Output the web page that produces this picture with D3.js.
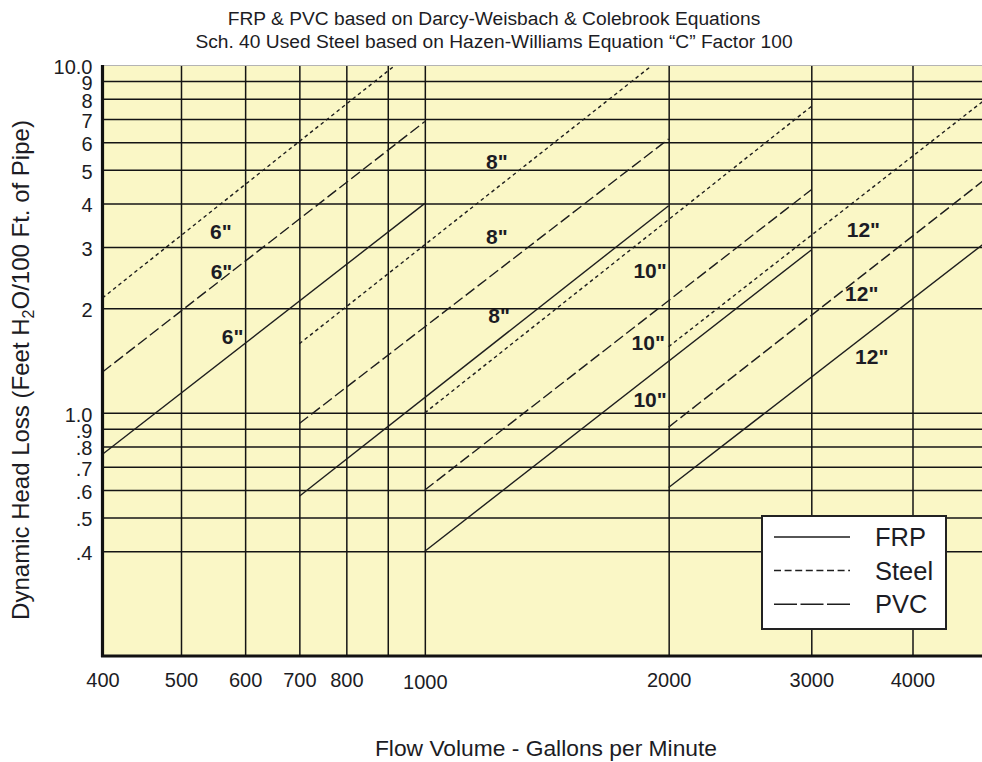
<!DOCTYPE html>
<html>
<head>
<meta charset="utf-8">
<script src="https://cdn.jsdelivr.net/npm/d3@7"></script>
<style>
  html, body { margin: 0; padding: 0; background: #ffffff; }
  svg { display: block; }
  text { font-family: "Liberation Sans", Arial, Helvetica, sans-serif; fill: #1c1c24; }
</style>
</head>
<body>
<svg id="chart" width="982" height="762"></svg>
<script>
// Pipe friction loss per 100 ft vs. flow, log-log
const titleLines = [
  "FRP & PVC based on Darcy-Weisbach & Colebrook Equations",
  "Sch. 40 Used Steel based on Hazen-Williams Equation \u201CC\u201D Factor 100"
];

// pipe sizes, one line per material for each size
const pipeSizes = ['6"', '8"', '10"', '12"'];

// [flow gpm, head ft] endpoints of each straight line (power law)
const frpLines = [
  [[400, 0.76], [1000, 4.0]],
  [[700, 0.576], [2000, 3.94]],
  [[1000, 0.40], [3000, 2.94]],
  [[2000, 0.61], [5000, 3.18]]
];
const steelLines = [
  [[400, 2.14], [915, 9.9]],
  [[700, 1.58], [1900, 9.9]],
  [[1000, 1.0], [3000, 7.6]],
  [[2000, 1.55], [5000, 8.2]]
];
const pvcLines = [
  [[400, 1.31], [1000, 6.88]],
  [[700, 0.932], [2000, 6.13]],
  [[1000, 0.60], [3000, 4.38]],
  [[2000, 0.91], [5000, 4.84]]
];

// size label anchors [flow, head]
const steelLabelAt = [[560, 3.32], [1227, 5.28], [1897, 2.57], [3479, 3.36]];
const pvcLabelAt   = [[561, 2.55], [1227, 3.21], [1887, 1.59], [3463, 2.21]];
const frpLabelAt   = [[579, 1.66], [1235, 1.90], [1897, 1.09], [3562, 1.45]];

// axes
const xDomain = [400, 5000];
const yDomain = [0.2, 10];
const xGridValues = [500, 600, 700, 800, 900, 1000, 2000, 3000, 4000];
const xTickValues = [400, 500, 600, 700, 800, 1000, 2000, 3000, 4000];
const yGridValues = [0.4, 0.5, 0.6, 0.7, 0.8, 0.9, 1, 2, 3, 4, 5, 6, 7, 8, 9, 10];
const yTickLabels = ['.4', '.5', '.6', '.7', '.8', '.9', '1.0', '2', '3', '4', '5', '6', '7', '8', '9', '10.0'];

const xTitle = "Flow Volume - Gallons per Minute";
const legendItems = ["FRP", "Steel", "PVC"];

const svg = d3.select("#chart");
const plot = { left: 102.5, top: 65, bottom: 656 };
plot.right = plot.left + 810 * Math.log10(xDomain[1] / xDomain[0]);

const x = d3.scaleLog().domain(xDomain).range([plot.left, plot.right]);
const y = d3.scaleLog().domain(yDomain).range([plot.bottom, plot.top]);

const styles = {
  FRP:   { dash: null,      legendDash: null },
  Steel: { dash: "3.6,3.2", legendDash: "7,3.6" },
  PVC:   { dash: "11,4",    legendDash: "23,3.5" }
};

// plot background
svg.append("rect")
  .attr("x", plot.left).attr("y", plot.top)
  .attr("width", plot.right - plot.left).attr("height", plot.bottom - plot.top)
  .attr("fill", "#faf7c6");

// size labels sit beneath grid and curves
const labelG = svg.append("g")
  .attr("font-weight", "bold").attr("font-size", 21).attr("text-anchor", "middle");
[steelLabelAt, pvcLabelAt, frpLabelAt].forEach(set => {
  set.forEach((p, i) => {
    labelG.append("text")
      .attr("x", x(p[0])).attr("y", y(p[1]))
      .attr("dy", "0.36em")
      .text(pipeSizes[i]);
  });
});

// gridlines
const gridX = svg.append("g")
  .attr("transform", `translate(0,${plot.bottom})`)
  .call(d3.axisBottom(x).tickValues(xGridValues).tickSize(-(plot.bottom - plot.top)).tickFormat(""));
const gridY = svg.append("g")
  .attr("transform", `translate(${plot.left},0)`)
  .call(d3.axisLeft(y).tickValues(yGridValues).tickSize(-(plot.right - plot.left)).tickFormat(""));
[gridX, gridY].forEach(g => {
  g.select(".domain").remove();
  g.selectAll(".tick line").attr("stroke", "#141414").attr("stroke-width", 1.5);
});
gridY.selectAll(".tick line").filter(d => d === 10).attr("stroke", "#b4b4b4").attr("stroke-width", 1.2);

// friction loss lines
const lineGen = d3.line().x(d => x(d[0])).y(d => y(d[1]));
svg.append("clipPath").attr("id", "plotClip").append("rect")
  .attr("x", plot.left).attr("y", plot.top)
  .attr("width", plot.right - plot.left).attr("height", plot.bottom - plot.top);
const curves = svg.append("g").attr("clip-path", "url(#plotClip)");
[["FRP", frpLines], ["Steel", steelLines], ["PVC", pvcLines]].forEach(([name, set]) => {
  set.forEach(seg => {
    curves.append("path")
      .attr("d", lineGen(seg))
      .attr("fill", "none")
      .attr("stroke", "#1e1e1e")
      .attr("stroke-width", 1.4)
      .attr("stroke-dasharray", styles[name].dash);
  });
});

// axis frame: heavy left and bottom rules
const axisL = svg.append("g")
  .attr("transform", `translate(${plot.left},0)`)
  .call(d3.axisLeft(y).tickValues(yGridValues).tickSize(0).tickPadding(10)
    .tickFormat((d, i) => yTickLabels[i]));
axisL.select(".domain").remove();
axisL.selectAll("text")
  .attr("font-size", 20).attr("font-family", null).attr("fill", "#1c1c2c")
  .attr("dy", "0.42em");

const axisB = svg.append("g")
  .attr("transform", `translate(0,${plot.bottom})`)
  .call(d3.axisBottom(x).tickValues(xTickValues).tickSize(0).tickPadding(17)
    .tickFormat(d3.format("d")));
axisB.select(".domain").remove();
axisB.selectAll("text")
  .attr("font-size", 20).attr("font-family", null).attr("fill", "#1c1c2c")
  .attr("dy", d => d === 1000 ? "0.82em" : "0.71em");

svg.append("line")
  .attr("x1", plot.left).attr("x2", plot.left)
  .attr("y1", plot.top).attr("y2", plot.bottom + 1)
  .attr("stroke", "#111").attr("stroke-width", 3.2);
svg.append("line")
  .attr("x1", plot.left - 1.5).attr("x2", plot.right)
  .attr("y1", plot.bottom).attr("y2", plot.bottom)
  .attr("stroke", "#111").attr("stroke-width", 3);

// legend
const leg = svg.append("g").attr("transform", "translate(762,516)");
leg.append("rect")
  .attr("width", 184).attr("height", 113)
  .attr("fill", "#ffffff").attr("stroke", "#222").attr("stroke-width", 2);
legendItems.forEach((name, i) => {
  const cy = 21 + i * 33.6;
  leg.append("line")
    .attr("x1", 12).attr("x2", 88).attr("y1", cy).attr("y2", cy)
    .attr("stroke", "#1e1e1e").attr("stroke-width", 1.5)
    .attr("stroke-dasharray", styles[name].legendDash);
  leg.append("text")
    .attr("x", 113).attr("y", cy).attr("dy", "0.36em")
    .attr("font-size", 25.5).attr("fill", "#1c1c3a")
    .text(name);
});

// titles
const tg = svg.append("g").attr("text-anchor", "middle").attr("font-size", 19.2);
titleLines.forEach((t, i) => {
  tg.append("text").attr("x", 494).attr("y", 18 + i * 23.5).attr("dy", "0.36em").text(t);
});

svg.append("text")
  .attr("x", 546).attr("y", 748).attr("dy", "0.36em")
  .attr("text-anchor", "middle").attr("font-size", 22.8)
  .text(xTitle);

const yt = svg.append("text")
  .attr("transform", "translate(20,370) rotate(-90)")
  .attr("text-anchor", "middle").attr("font-size", 24).attr("dy", "0.36em");
yt.append("tspan").text("Dynamic Head Loss (Feet H");
yt.append("tspan").attr("font-size", 16).attr("dy", 5).text("2");
yt.append("tspan").attr("dy", -5).text("O/100 Ft. of Pipe)");
</script>
</body>
</html>
